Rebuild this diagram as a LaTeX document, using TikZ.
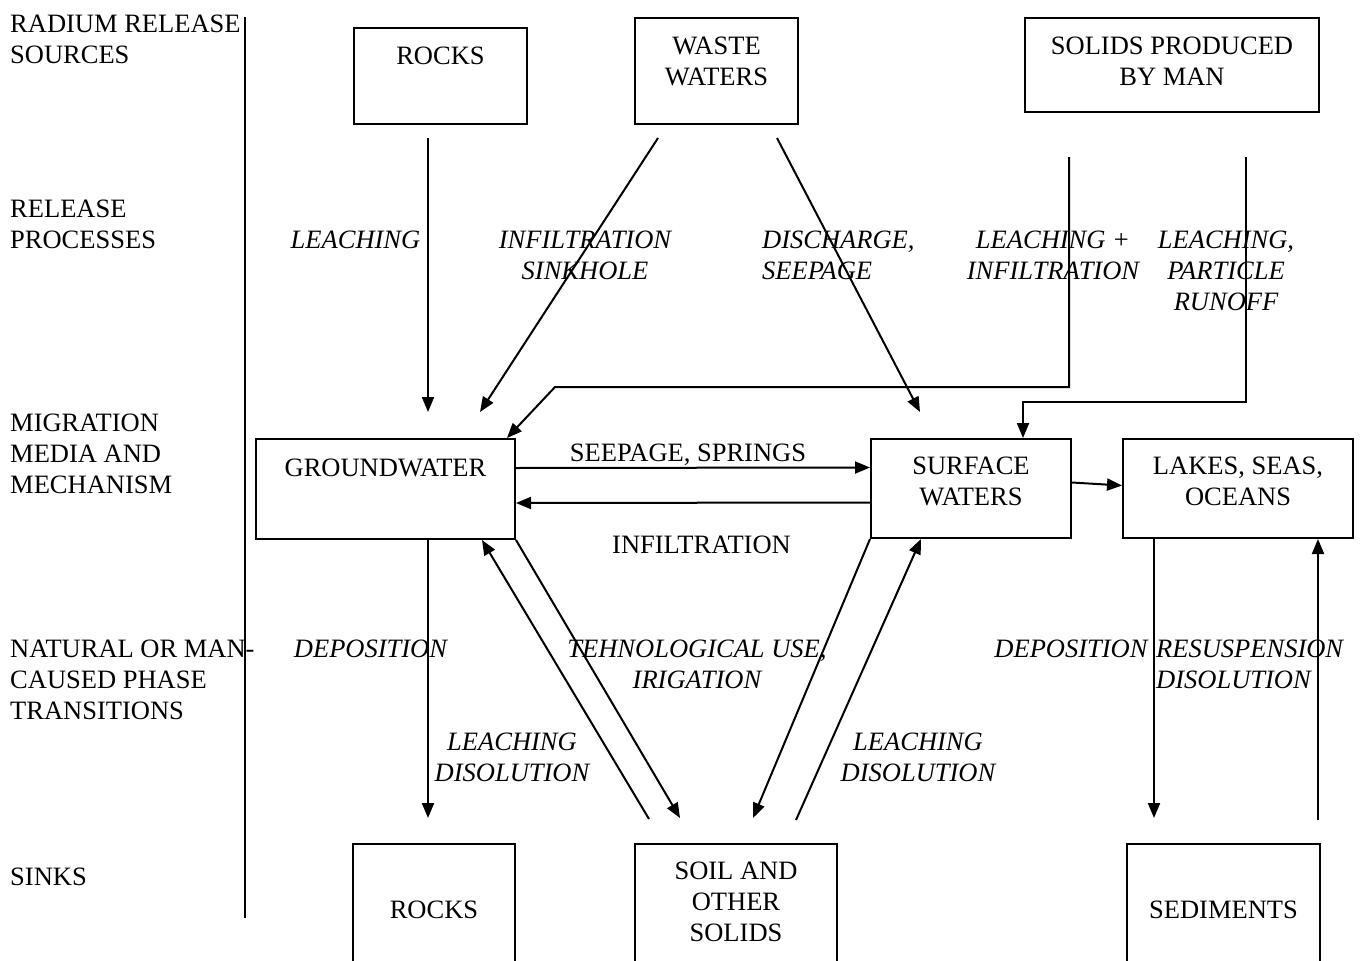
\documentclass[tikz,border=0pt]{standalone}
\usepackage{fontspec}
\setmainfont{Liberation Serif}
\usetikzlibrary{arrows.meta,positioning,calc}

\begin{document}
\begin{tikzpicture}[
    x=1pt, y=-1pt,
    every node/.style={inner sep=0pt},
    font=\fontsize{26.5}{31}\selectfont,
    box/.style={rectangle, draw, line width=2pt, align=center, anchor=north west},
    rowlabel/.style={anchor=base west, align=left},
    proc/.style={font=\fontsize{26.5}{31}\selectfont\itshape, anchor=base, align=center},
    flow/.style={anchor=base},
    arrow/.style={-{Triangle[length=15pt,width=12pt]}, line width=2pt}
]
\useasboundingbox (0,0) rectangle (1363,961);
\clip (0,0) rectangle (1363,961);

% Row labels (placed at the baseline of their last line)
\node[rowlabel] (row_sources) at (10,63) {RADIUM RELEASE\\SOURCES};
\node[rowlabel] (row_release) at (10,248) {RELEASE\\PROCESSES};
\node[rowlabel] (row_media) at (10,493) {MIGRATION\\MEDIA AND\\MECHANISM};
\node[rowlabel] (row_phase) at (10,719) {NATURAL OR MAN-\\CAUSED PHASE\\TRANSITIONS};
\node[rowlabel] (row_sinks) at (10,885) {SINKS};
\draw[line width=1.5pt] (245,17) -- (245,918);

% Nodes
\node[box, minimum width=173pt, text height=36pt, text depth=60pt] (src_rocks) at (353,27) {ROCKS};
\node[box, minimum width=163pt, text height=67pt, text depth=39pt] (waste) at (634,17) {WASTE\\WATERS};
\node[box, minimum width=294pt, text height=67pt, text depth=27pt] (man_solids) at (1024,17) {SOLIDS PRODUCED\\BY MAN};

\node[box, minimum width=259pt, text height=37pt, text depth=63pt] (ground) at (255,438) {GROUNDWATER};
\node[box, minimum width=200pt, text height=66pt, text depth=33pt] (surface) at (870,438) {SURFACE\\WATERS};
\node[box, minimum width=230pt, text height=66pt, text depth=33pt] (lakes) at (1122,438) {LAKES, SEAS,\\OCEANS};

\node[box, minimum width=162pt, text height=74pt, text depth=83pt] (sink_rocks) at (352,843) {ROCKS};
\node[box, minimum width=202pt, text height=97pt, text depth=60pt] (soil) at (634,843) {SOIL AND\\OTHER\\SOLIDS};
\node[box, minimum width=193pt, text height=74pt, text depth=83pt] (sediments) at (1126,843) {SEDIMENTS};

% Free ends
\coordinate (rocks_out) at (428,138);
\coordinate (rocks_in) at (428,412);
\coordinate (waste_out) at (658,138);
\coordinate (waste_in) at (480,412);
\coordinate (waste_out2) at (777,138);
\coordinate (waste_in2) at (920,412);
\coordinate (solids_out) at (1069,157);
\coordinate (solids_bend) at (555,387);
\coordinate (solids_out2) at (1246,157);
\coordinate (solids_bend2) at (1023,402);
\coordinate (dep_in) at (428,818);
\coordinate (soil_out) at (649,819);
\coordinate (soil_in) at (680,818);
\coordinate (soil_in2) at (753,818);
\coordinate (soil_out2) at (796,820);
\coordinate (sed_in) at (1154,818);
\coordinate (sed_out) at (1318,820);

% Edges
\draw[arrow] (rocks_out) -- (rocks_in);
\draw[arrow] (waste_out) -- (waste_in);
\draw[arrow] (waste_out2) -- (waste_in2);
\draw[arrow] (solids_out) |- (solids_bend) -- ($(ground.north east)+(-9,0)$);
\draw[arrow] (solids_out2) |- (solids_bend2) -- (solids_bend2 |- surface.north);

\draw[arrow] ($(ground.east)+(0,-21)$) -- ($(surface.west)+(0,-21)$);
\draw[arrow] ($(surface.west)+(0,14)$) -- ($(ground.east)+(0,14)$);
\draw[arrow] ($(surface.east)+(0,-6)$) -- ($(lakes.west)+(0,-3)$);

\draw[arrow] (ground.south -| dep_in) -- (dep_in);
\draw[arrow] (soil_out) -- ($(ground.south east)+(-34,0)$);
\draw[arrow] (ground.south east) -- (soil_in);
\draw[arrow] (surface.south west) -- (soil_in2);
\draw[arrow] (soil_out2) -- ($(surface.south)+(-50,0)$);
\draw[arrow] (lakes.south -| sed_in) -- (sed_in);
\draw[arrow] (sed_out) -- (sed_out |- lakes.south);

% Labels
\node[proc] (lbl_leaching) at (355.5,248) {LEACHING};
\node[proc] (lbl_sinkhole) at (585,279) {INFILTRATION\\SINKHOLE};
\node[proc, anchor=base west, align=left] (lbl_discharge) at (762,279) {DISCHARGE,\\SEEPAGE};
\node[proc] (lbl_leach_inf) at (1053,279) {LEACHING +\\INFILTRATION};
\node[proc] (lbl_runoff) at (1226,310) {LEACHING,\\PARTICLE\\RUNOFF};
\node[flow] (lbl_seepage) at (688,461) {SEEPAGE, SPRINGS};
\node[flow] (lbl_infiltration) at (701.5,553) {INFILTRATION};
\node[proc] (lbl_deposition) at (370.5,657) {DEPOSITION};
\node[proc] (lbl_tech) at (697,688) {TEHNOLOGICAL USE,\\IRIGATION};
\node[proc] (lbl_leach_dis) at (512,781) {LEACHING\\DISOLUTION};
\node[proc] (lbl_leach_dis2) at (918,781) {LEACHING\\DISOLUTION};
\node[proc] (lbl_deposition2) at (1071,657) {DEPOSITION};
\node[proc, anchor=base west, align=left] (lbl_resusp) at (1156,688) {RESUSPENSION\\DISOLUTION};

\end{tikzpicture}
\end{document}
